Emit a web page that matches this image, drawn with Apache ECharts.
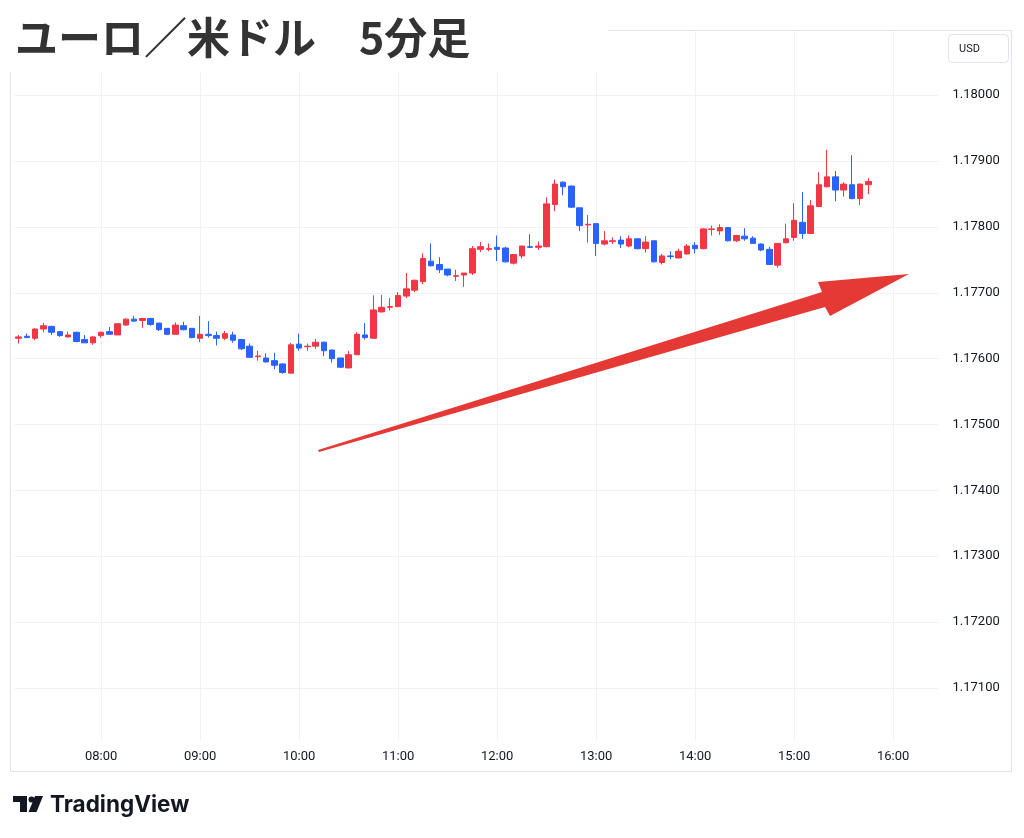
<!DOCTYPE html>
<html>
<head>
<meta charset="utf-8">
<script src="https://cdn.jsdelivr.net/npm/echarts@6/dist/echarts.min.js"></script>
<style>
html,body{margin:0;padding:0;background:#fff;}
#chart{width:1024px;height:838px;}
</style>
</head>
<body>
<div id="chart"></div>
<script>
// 5-minute time categories (axis extends to 16:25)
const times = [
 '07:10','07:15','07:20','07:25','07:30','07:35','07:40','07:45','07:50','07:55',
 '08:00','08:05','08:10','08:15','08:20','08:25','08:30','08:35','08:40','08:45','08:50','08:55',
 '09:00','09:05','09:10','09:15','09:20','09:25','09:30','09:35','09:40','09:45','09:50','09:55',
 '10:00','10:05','10:10','10:15','10:20','10:25','10:30','10:35','10:40','10:45','10:50','10:55',
 '11:00','11:05','11:10','11:15','11:20','11:25','11:30','11:35','11:40','11:45','11:50','11:55',
 '12:00','12:05','12:10','12:15','12:20','12:25','12:30','12:35','12:40','12:45','12:50','12:55',
 '13:00','13:05','13:10','13:15','13:20','13:25','13:30','13:35','13:40','13:45','13:50','13:55',
 '14:00','14:05','14:10','14:15','14:20','14:25','14:30','14:35','14:40','14:45','14:50','14:55',
 '15:00','15:05','15:10','15:15','15:20','15:25','15:30','15:35','15:40','15:45','15:50','15:55',
 '16:00','16:05','16:10','16:15','16:20','16:25'
];
const hourLabels = ['08:00','09:00','10:00','11:00','12:00','13:00','14:00','15:00','16:00'];

const opens = [
 1.17631,1.17634,1.17631,1.17645,1.17649,1.17641,1.17633,1.17640,1.17629,1.17624,
 1.17635,1.17641,1.17636,1.17651,1.17660,1.17658,1.17661,1.17654,1.17646,1.17637,1.17650,1.17646,
 1.17631,1.17637,1.17635,1.17631,1.17636,1.17629,1.17619,1.17603,1.17601,1.17597,1.17592,1.17578,
 1.17622,1.17618,1.17619,1.17625,1.17613,1.17601,1.17586,1.17606,1.17636,1.17631,1.17671,1.17678,
 1.17679,1.17695,1.17704,1.17717,1.17748,1.17743,1.17736,1.17725,1.17727,1.17730,1.17766,1.17766,
 1.17769,1.17768,1.17745,1.17756,1.17770,1.17769,1.17770,1.17834,1.17868,1.17862,1.17829,1.17803,
 1.17805,1.17774,1.17778,1.17780,1.17771,1.17782,1.17767,1.17779,1.17746,1.17756,1.17753,1.17759,
 1.17772,1.17767,1.17796,1.17794,1.17799,1.17779,1.17786,1.17783,1.17774,1.17766,1.17742,1.17776,
 1.17784,1.17807,1.17790,1.17831,1.17861,1.17876,1.17856,1.17864,1.17843,1.17864
];
const closes = [
 1.17633,1.17632,1.17645,1.17650,1.17640,1.17635,1.17636,1.17626,1.17624,1.17633,
 1.17640,1.17637,1.17653,1.17660,1.17657,1.17661,1.17652,1.17644,1.17637,1.17651,1.17644,1.17632,
 1.17637,1.17635,1.17631,1.17638,1.17628,1.17615,1.17602,1.17604,1.17595,1.17590,1.17579,1.17621,
 1.17616,1.17619,1.17625,1.17612,1.17600,1.17587,1.17606,1.17637,1.17632,1.17674,1.17678,1.17679,
 1.17696,1.17706,1.17719,1.17752,1.17741,1.17735,1.17727,1.17726,1.17730,1.17767,1.17770,1.17767,
 1.17766,1.17747,1.17758,1.17771,1.17769,1.17771,1.17835,1.17865,1.17861,1.17830,1.17802,1.17804,
 1.17775,1.17779,1.17779,1.17774,1.17782,1.17767,1.17777,1.17747,1.17756,1.17755,1.17763,1.17771,
 1.17767,1.17797,1.17797,1.17799,1.17779,1.17787,1.17782,1.17775,1.17765,1.17743,1.17775,1.17782,
 1.17810,1.17790,1.17832,1.17864,1.17876,1.17856,1.17865,1.17843,1.17865,1.17869
];
const lows = [
 1.17623,1.17631,1.17628,1.17640,1.17636,1.17633,1.17632,1.17625,1.17624,1.17621,
 1.17632,1.17637,1.17636,1.17650,1.17656,1.17647,1.17650,1.17642,1.17636,1.17637,1.17643,1.17631,
 1.17625,1.17632,1.17620,1.17628,1.17624,1.17613,1.17602,1.17597,1.17594,1.17584,1.17577,1.17578,
 1.17612,1.17612,1.17615,1.17604,1.17594,1.17586,1.17585,1.17606,1.17629,1.17631,1.17670,1.17673,
 1.17678,1.17692,1.17701,1.17713,1.17740,1.17730,1.17725,1.17718,1.17709,1.17727,1.17762,1.17763,
 1.17748,1.17746,1.17743,1.17752,1.17768,1.17765,1.17769,1.17824,1.17848,1.17829,1.17794,1.17776,
 1.17756,1.17772,1.17774,1.17768,1.17769,1.17766,1.17761,1.17746,1.17743,1.17751,1.17752,1.17758,
 1.17760,1.17766,1.17787,1.17788,1.17778,1.17777,1.17779,1.17775,1.17763,1.17742,1.17738,1.17775,
 1.17779,1.17782,1.17790,1.17830,1.17860,1.17839,1.17846,1.17842,1.17833,1.17850
];
const highs = [
 1.17636,1.17638,1.17646,1.17654,1.17650,1.17642,1.17641,1.17641,1.17636,1.17634,
 1.17641,1.17648,1.17654,1.17661,1.17665,1.17662,1.17662,1.17654,1.17646,1.17655,1.17656,1.17646,
 1.17665,1.17657,1.17641,1.17642,1.17641,1.17630,1.17623,1.17612,1.17608,1.17609,1.17593,1.17624,
 1.17638,1.17623,1.17630,1.17626,1.17614,1.17601,1.17612,1.17640,1.17654,1.17696,1.17697,1.17692,
 1.17701,1.17730,1.17720,1.17760,1.17775,1.17754,1.17736,1.17735,1.17730,1.17771,1.17777,1.17775,
 1.17787,1.17770,1.17758,1.17771,1.17789,1.17778,1.17845,1.17872,1.17869,1.17863,1.17829,1.17818,
 1.17806,1.17794,1.17784,1.17786,1.17787,1.17782,1.17786,1.17779,1.17759,1.17763,1.17767,1.17774,
 1.17777,1.17798,1.17802,1.17804,1.17800,1.17788,1.17798,1.17786,1.17775,1.17770,1.17775,1.17805,
 1.17836,1.17853,1.17841,1.17883,1.17917,1.17885,1.17868,1.17909,1.17866,1.17874
];

const candles = opens.map((o, i) => [o, closes[i], lows[i], highs[i]]);

const UP = '#f23645', DOWN = '#2962ff', GRID = '#f0f1f4', TXT = '#131722';

const chart = echarts.init(document.getElementById('chart'), null, {renderer: 'canvas'});
chart.setOption({
  animation: false,
  backgroundColor: '#ffffff',
  grid: {left: 14.5, right: 85.5, top: 30, bottom: 98},
  xAxis: {
    type: 'category',
    data: times,
    boundaryGap: true,
    axisLine: {show: false},
    axisTick: {show: false},
    splitLine: {show: false},
    axisLabel: {
      interval: (idx, val) => hourLabels.indexOf(val) >= 0,
      color: TXT, fontSize: 13, margin: 10,
      fontFamily: 'Roboto'
    }
  },
  yAxis: {
    type: 'value',
    position: 'right',
    min: 1.17021,
    max: 1.18099,
    splitNumber: 10,
    axisLine: {show: false},
    axisTick: {show: false},
    axisLabel: {
      color: TXT, fontSize: 13, margin: 14, fontFamily: 'Roboto',
      showMinLabel: false, showMaxLabel: false,
      formatter: v => v.toFixed(5)
    },
    splitLine: {show: true, showMinLine: false, showMaxLine: false, lineStyle: {color: GRID, width: 1}}
  },
  series: [{
    type: 'candlestick',
    data: candles,
    barWidth: 6,
    z: 2,
    itemStyle: {color: UP, color0: DOWN, borderColor: UP, borderColor0: DOWN, borderWidth: 1},
    markLine: {
      silent: true, symbol: ['none', 'none'], z: 1,
      label: {show: false},
      lineStyle: {color: GRID, width: 1, type: 'solid'},
      data: hourLabels.map(h => ({xAxis: h}))
    }
  }],
  graphic: [
    {type: 'rect', z: -10, shape: {x: 10.5, y: 30.5, width: 1001, height: 741},
     style: {fill: 'transparent', stroke: '#e0e3eb', lineWidth: 1}},
    {type: 'rect', z: 100, shape: {x: 0, y: 0, width: 608, height: 72},
     style: {fill: '#ffffff'}},
    {type: 'text', z: 101, x: 15, y: 38,
     style: {text: 'ユーロ／米ドル　5分足', fill: '#333333', font: 'bold 43px "Noto Sans CJK JP"',
             textVerticalAlign: 'middle'}},
    {type: 'rect', z: 100, shape: {x: 948.5, y: 34.5, width: 60, height: 28, r: 4},
     style: {fill: '#ffffff', stroke: '#e0e3eb', lineWidth: 1}},
    {type: 'text', z: 101, x: 959, y: 49,
     style: {text: 'USD', fill: TXT, font: '11px Roboto', textVerticalAlign: 'middle'}},
    {type: 'polygon', z: 50,
     shape: {points: [[318, 450], [822, 292], [818, 282], [909, 274], [830, 316], [825, 307], [319, 452]]},
     style: {fill: '#e53935'}},
    // TradingView logo mark
    {type: 'rect', z: 100, shape: {x: 13, y: 796, width: 14, height: 6}, style: {fill: '#131722'}},
    {type: 'rect', z: 100, shape: {x: 20, y: 796, width: 7, height: 16}, style: {fill: '#131722'}},
    {type: 'circle', z: 100, shape: {cx: 31.5, cy: 799.5, r: 3}, style: {fill: '#131722'}},
    {type: 'polygon', z: 100, shape: {points: [[35, 796], [43, 796], [36.5, 812], [28.5, 812]]}, style: {fill: '#131722'}},
    {type: 'text', z: 100, x: 50, y: 805,
     style: {text: 'TradingView', fill: '#131722', font: 'bold 22.5px Inter', textVerticalAlign: 'middle'}}
  ]
});
</script>
</body>
</html>
